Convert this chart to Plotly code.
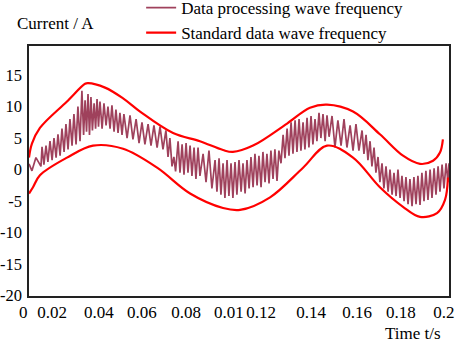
import plotly.graph_objects as go

# ---- data (time in ms, current in A) ----
signal_ms = [0.0, 1.4, 3.3, 5.7,
             6.2, 7.1, 8.1, 9.0, 10.0, 11.0, 11.9, 12.9, 13.8, 14.8, 15.7, 16.7, 17.6, 18.6, 19.5, 20.5,
             21.4, 22.4, 23.3, 24.3, 25.2, 26.0, 26.7, 27.4, 28.1, 28.8, 29.5, 30.2, 31.0, 31.7, 32.4, 33.1,
             33.8, 34.8, 35.7, 36.7, 37.6, 38.6, 39.5, 40.5, 41.4, 42.4, 43.3, 44.3, 45.2, 46.7, 48.1, 49.5,
             51.0, 52.4, 53.8, 55.2, 56.7, 58.1, 59.5, 61.0, 62.4, 63.8, 65.2, 66.2, 67.1, 68.1, 69.0, 69.8,
             71.0, 71.9, 72.9, 73.8, 74.8, 75.7, 76.7, 77.6, 78.6, 79.5, 80.5, 81.4, 82.9, 84.3, 85.7, 87.1,
             88.6, 89.5, 90.5, 91.4, 92.4, 93.3, 94.3, 95.2, 96.2, 97.1, 98.1, 99.0, 100.0, 101.0, 101.9, 102.9,
             103.8, 104.8, 105.7, 106.7, 107.6, 108.6, 109.5, 110.5, 111.4, 112.4, 113.3, 114.3, 115.2, 116.2,
             117.1, 118.1, 119.0, 120.0, 121.0, 121.9, 122.9, 123.8, 124.8, 125.7, 126.7, 127.6, 128.6, 129.5,
             130.5, 131.4, 132.4, 133.3, 134.3, 135.2, 136.2, 137.1, 138.1, 139.0, 140.0, 141.0, 141.9, 142.9,
             144.3, 145.7, 147.1, 148.6, 150.0, 151.4, 152.9, 154.3, 155.7, 157.1, 158.6, 159.5, 160.5, 161.4,
             162.4, 163.3, 164.3, 165.2, 166.2, 167.1, 168.1, 169.0, 170.0, 171.0, 171.9, 172.9, 173.8, 174.8,
             175.7, 176.7, 177.6, 178.6, 179.5, 180.5, 181.4, 182.4, 183.3, 184.3, 185.2, 186.2, 187.1, 188.1,
             189.0, 190.0, 191.0, 191.9, 192.9, 193.8, 194.8, 195.7, 196.7, 197.6, 198.6, 199.5, 200.0]
signal_a = [0.9, -0.2, 1.9, 0.5,
            3.6, 0.8, 3.8, 1.2, 4.5, 1.5, 5.0, 1.9, 5.6, 2.2, 6.5, 2.8, 7.2, 3.2, 8.0, 3.8,
            8.8, 4.0, 10.0, 4.5, 12.5, 5.5, 11.0, 6.0, 12.0, 5.5, 11.5, 6.2, 10.5, 6.5, 11.2, 6.8,
            10.8, 6.5, 10.5, 7.0, 10.0, 6.5, 10.2, 6.0, 9.5, 5.8, 9.0, 5.5, 8.8, 5.0, 8.6, 4.8,
            8.0, 4.2, 7.5, 4.0, 7.2, 3.8, 7.0, 3.5, 6.8, 3.2, 6.2, 2.0, 5.0, 0.5, 2.0, -0.3,
            4.5, -0.5, 4.0, -0.8, 4.2, -0.5, 3.8, -1.0, 3.5, -1.5, 3.5, -1.0, 2.5, -2.0, 3.0, -3.0,
            1.5, -3.5, 1.8, -4.0, 1.0, -4.5, 1.5, -4.2, 1.0, -4.5, 1.2, -4.0, 1.5, -3.5, 1.0, -3.8,
            1.5, -3.0, 2.0, -2.8, 2.5, -2.5, 2.2, -2.8, 2.8, -2.0, 2.5, -2.2, 3.0, -1.5,
            3.2, -1.8, 3.0, 1.0, 5.5, 1.8, 6.5, 2.2, 7.5, 2.5, 7.8, 2.8, 8.0, 3.0,
            7.5, 3.2, 8.2, 3.5, 8.5, 4.0, 8.0, 4.5, 9.0, 5.0, 8.8, 4.5, 8.6, 5.2,
            8.5, 3.5, 7.8, 3.8, 8.0, 3.5, 7.0, 3.0, 7.2, 3.0, 6.2, 2.5, 5.5, 1.5,
            4.5, 0.5, 3.5, -0.5, 2.0, -2.0, 1.0, -3.0, 0.5, -3.5, 0.0, -4.0, -0.5, -4.2,
            0.0, -4.5, -1.0, -5.0, -1.2, -5.5, -1.5, -5.8, -1.2, -5.5, -1.0, -5.6, -0.5, -5.0,
            -0.2, -4.8, 0.0, -4.5, 0.2, -4.0, 0.5, -3.5, 0.8, -3.0, 1.0, -2.0, 1.0]

upper_ms = [0.0, 1.4, 5.2, 18.1, 26.7, 28.1, 36.2, 44.8, 52.9, 68.6, 81.4, 92.4, 97.1, 106.7,
            122.9, 133.8, 141.9, 154.3, 167.1, 178.1, 186.2, 192.4, 195.7, 197.1]
upper_a = [1.9, 4.1, 6.6, 10.8, 13.6, 13.7, 13.0, 11.3, 9.2, 5.8, 4.5, 3.1, 2.8, 3.8,
           7.3, 9.8, 10.3, 9.2, 5.6, 2.2, 0.9, 1.4, 2.7, 4.8]

lower_ms = [0.0, 1.9, 5.2, 18.1, 30.5, 44.8, 61.0, 76.7, 92.4, 100.5, 114.8, 130.5, 141.9,
            154.3, 167.1, 178.1, 186.2, 194.3, 198.1, 199.5]
lower_a = [-3.8, -2.8, -0.9, 1.9, 3.8, 3.3, 0.3, -3.8, -6.1, -6.4, -4.4, 0.3, 3.8,
           1.9, -2.8, -5.9, -7.5, -6.9, -4.8, -1.25]

x_tick_labels = ["0.02", "0.04", "0.06", "0.08", "0.01", "0.12", "0.14", "0.16", "0.18", "0.2"]
x_tick_pos = [0.0110, 0.0333, 0.0538, 0.0748, 0.0952, 0.1105, 0.1343, 0.1562, 0.1771, 0.1976]
y_tick_vals = [-20, -15, -10, -5, 0, 5, 10, 15]
y_tick_labels = ["-20", "-15", "-10", "-5", "0", "5", "10", "15"]

FONT = "Liberation Serif, Times New Roman, serif"
SIG_COLOR = "#9f415c"
RED = "#ff0000"

fig = go.Figure()
fig.add_trace(go.Scatter(x=[t / 1000 for t in signal_ms], y=signal_a, mode="lines",
                         line=dict(color=SIG_COLOR, width=1.7),
                         name="Data processing wave frequency"))
fig.add_trace(go.Scatter(x=[t / 1000 for t in upper_ms], y=upper_a, mode="lines",
                         line=dict(color=RED, width=2.2, shape="spline"),
                         name="Standard data wave frequency", legendgroup="std"))
fig.add_trace(go.Scatter(x=[t / 1000 for t in lower_ms], y=lower_a, mode="lines",
                         line=dict(color=RED, width=2.2, shape="spline"),
                         name="Standard data wave frequency", legendgroup="std", showlegend=False))

fig.update_layout(
    width=457, height=346,
    margin=dict(l=29, r=8, t=46, b=50, autoexpand=False),
    paper_bgcolor="white", plot_bgcolor="white",
    font=dict(family=FONT, size=17, color="black"),
    showlegend=True,
    legend=dict(x=0.267, y=1.224, xanchor="left", yanchor="top",
                bgcolor="rgba(0,0,0,0)", font=dict(family=FONT, size=17, color="black"),
                tracegroupgap=0, itemwidth=30),
    xaxis=dict(range=[0, 0.2], showgrid=False, zeroline=False,
               showline=True, mirror=True, linecolor="#222", linewidth=1.6,
               tickvals=x_tick_pos, ticktext=x_tick_labels, ticks="", ticklabelstandoff=0,
               tickangle=0, automargin=False,
               tickfont=dict(family=FONT, size=17, color="black")),
    yaxis=dict(range=[-20.05, 19.6], showgrid=False, zeroline=False,
               showline=True, mirror=True, linecolor="#222", linewidth=1.6,
               tickvals=y_tick_vals, ticktext=y_tick_labels, ticks="", ticklabelstandoff=2,
               automargin=False,
               tickfont=dict(family=FONT, size=16.5, color="black")),
    annotations=[
        dict(text="Current / A", xref="paper", yref="paper", x=0.062, y=1.088,
             xanchor="center", yanchor="middle", showarrow=False,
             font=dict(family=FONT, size=17, color="black")),
        dict(text="Time t/s", xref="paper", yref="paper", x=0.915, y=-0.148,
             xanchor="center", yanchor="middle", showarrow=False,
             font=dict(family=FONT, size=17, color="black")),
        dict(text="0", xref="paper", yref="paper", x=-0.014, y=-0.064,
             xanchor="center", yanchor="middle", showarrow=False,
             font=dict(family=FONT, size=17, color="black")),
    ],
)

fig.write_html("out.html", config={"displayModeBar": False},
               post_script="document.body.style.margin='0';document.body.style.overflow='hidden';")
